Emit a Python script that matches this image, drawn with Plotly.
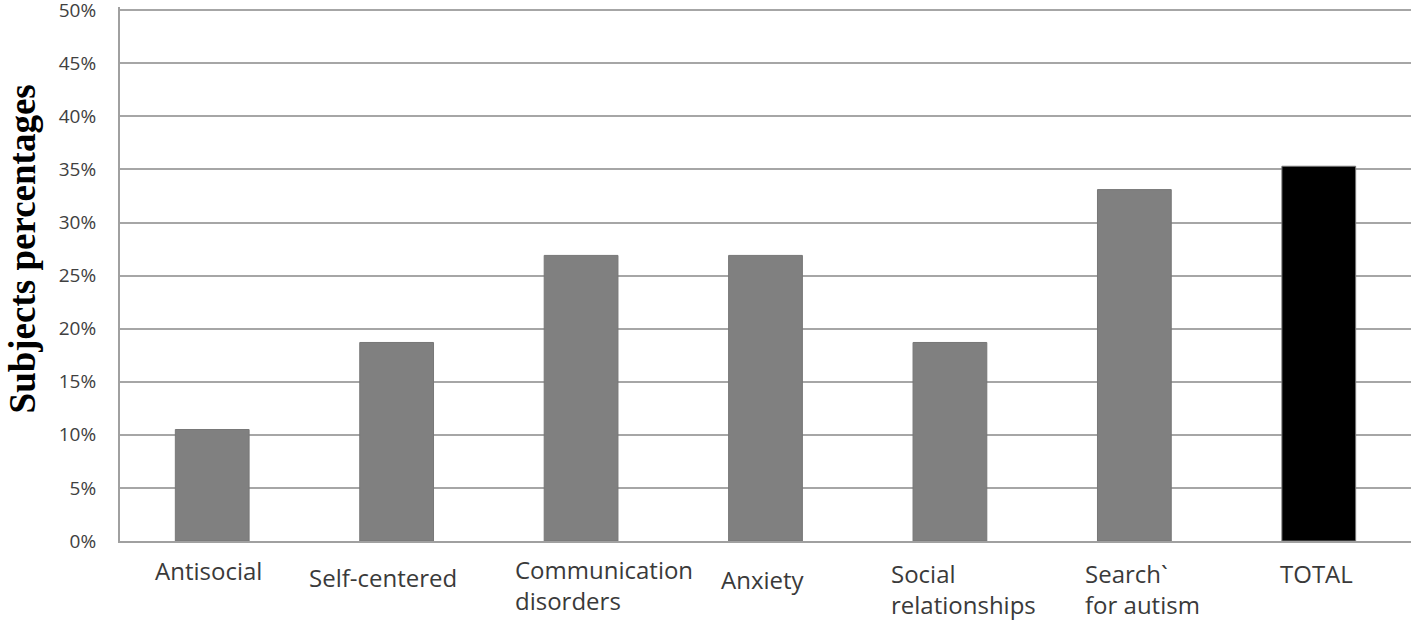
import plotly.graph_objects as go

categories = ["Antisocial", "Self-centered", "Communication disorders", "Anxiety",
              "Social relationships", "Search for autism", "TOTAL"]
values = [0.105, 0.187, 0.269, 0.269, 0.187, 0.331, 0.353]
bar_colors = ["#808080"] * 6 + ["#000000"]
label_texts = ["Antisocial", "Self-centered", "Communication<br>disorders", "Anxiety",
               "Social<br>relationships", "Search`<br>for autism", "TOTAL"]
y_ticks = [i * 0.05 for i in range(11)]
y_tick_labels = [f"{i * 5}%" for i in range(11)]

# label placement styles (pixel offsets)
label_xshift = [-4, -14, -68, -3, -61, -51, -2]
label_xanchor = ["center", "center", "left", "center", "left", "left", "center"]
label_yshift = [-29, -36, -44, -38, -48, -48, -32]

fig = go.Figure()
fig.add_trace(go.Bar(
    x=categories, y=values,
    marker=dict(color=bar_colors, line=dict(color="#777777", width=1)),
    width=0.4,
))

for cat, txt, xs, xa, ys in zip(categories, label_texts, label_xshift, label_xanchor, label_yshift):
    fig.add_annotation(
        x=cat, xref="x", y=0, yref="paper", text=txt, showarrow=False,
        xanchor=xa, yanchor="middle", align="left", xshift=xs, yshift=ys,
        font=dict(family="Open Sans", size=24, color="#3a3a3a"),
    )

fig.add_annotation(
    x=0, xref="paper", y=0.546, yref="paper", text="<b>Subjects percentages</b>",
    showarrow=False, textangle=-90, xshift=-98, xanchor="center", yanchor="middle",
    font=dict(family="Liberation Serif", size=37, color="#000000"),
)

fig.update_layout(
    width=1418, height=620,
    margin=dict(l=120, r=7, t=7, b=79),
    plot_bgcolor="white", paper_bgcolor="white",
    showlegend=False,
)
fig.update_xaxes(
    showticklabels=False, showgrid=False, automargin=False,
    showline=True, linecolor="#a0a0a0", linewidth=2,
)
fig.update_yaxes(
    range=[0, 0.503], tickvals=y_ticks, ticktext=y_tick_labels,
    showgrid=True, gridcolor="#a6a6a6", gridwidth=2,
    showline=True, linecolor="#a0a0a0", linewidth=2,
    zeroline=False, ticklabelstandoff=18, automargin=False,
    ticklabeloverflow="allow",
    tickfont=dict(family="Open Sans", size=19, color="#404040"),
)

fig.write_html("out.html", post_script="document.body.style.margin='0';",
               config={"displayModeBar": False})
